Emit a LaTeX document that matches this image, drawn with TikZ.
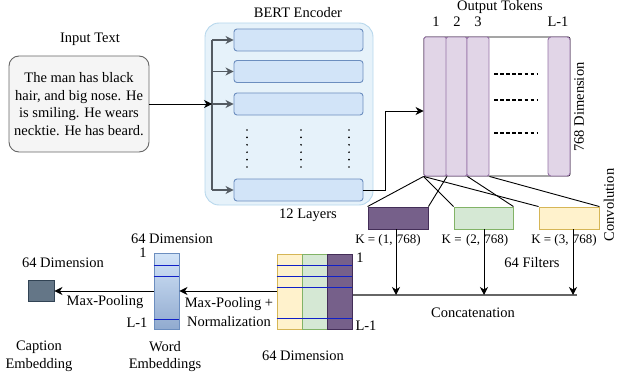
\documentclass[tikz,border=0pt]{standalone}
\usepackage{fontspec}
\setmainfont{Liberation Serif}
\usetikzlibrary{arrows.meta}
\definecolor{bertfill}{HTML}{E6F2FA}
\definecolor{bertdraw}{HTML}{B7D7EC}
\definecolor{layfill}{HTML}{D2E4F8}
\definecolor{laydraw}{HTML}{6C8EBF}
\definecolor{tokfill}{HTML}{E1D5E7}
\definecolor{tokdraw}{HTML}{9673A6}
\definecolor{purfill}{HTML}{76608A}
\definecolor{purdraw}{HTML}{432D57}
\definecolor{grnfill}{HTML}{D5E8D4}
\definecolor{grndraw}{HTML}{82B366}
\definecolor{yelfill}{HTML}{FFF2CC}
\definecolor{yeldraw}{HTML}{D6B656}
\definecolor{capfill}{HTML}{647687}
\definecolor{capdraw}{HTML}{314354}
\definecolor{arrgray}{HTML}{545B62}
\definecolor{rowblue}{HTML}{1020C8}
\tikzset{
  txt/.style={inner sep=0pt, font=\fontsize{14.5}{17.7}\selectfont, align=center},
  ktxt/.style={inner sep=0pt, font=\fontsize{13}{15}\selectfont},
  box/.style={draw, inner sep=0pt, line width=0.9pt},
  arr/.style={-{Stealth[length=8pt,width=8pt,inset=2.5pt]}, line width=0.9pt},
  garr/.style={-{Stealth[length=8pt,width=8pt,inset=2.5pt]}, line width=1.3pt, draw=arrgray, color=arrgray},
  rowline/.style={draw=rowblue, line width=0.9pt},
}
\begin{document}
\begin{tikzpicture}[x=1pt,y=-1pt]
\useasboundingbox (0,0) rectangle (620,377);

% Input
\node[box, rounded corners=10pt, fill=black!4, draw=black!60, minimum width=140pt, minimum height=96pt] (input) at (79,104) {};
\node[txt] (inputtxt) at (79,104) {The man has black\\hair, and big nose. He\\is smiling. He wears\\necktie. He has beard.};
\node[txt] (inputlbl) at (90,39) {Input Text};

% BERT
\node[box, rounded corners=14pt, fill=bertfill, draw=bertdraw, minimum width=168pt, minimum height=182pt] (bert) at (289,114) {};
\node[txt] (bertlbl) at (298,13) {BERT Encoder};
\node[txt] (layerslbl) at (308,215) {12 Layers};
\foreach \n/\y in {l1/40, l2/71.5, l3/104, l4/190}
  \node[box, rounded corners=3pt, fill=layfill, draw=laydraw, minimum width=129pt, minimum height=22pt] (\n) at (298.5,\y) {};
\foreach \x in {247,301,349}
  \foreach \k in {0,...,5}
    \fill (\x,130+\k*7.4) circle (0.95pt);
\coordinate (vt) at (212,40);
\coordinate (vb) at (212,190);
\coordinate (j) at (212,104);
\draw[line width=1.3pt, arrgray] (vt) -- (vb);
\foreach \n in {l1,l2,l3,l4}
  \draw[garr] (vt |- \n.west) -- (\n.west);
\draw[arr] (input.east) -- (j);

% Output tokens
\node[box, rounded corners=2pt, fill=white, draw=black, minimum width=146pt, minimum height=139pt] (tokens) at (497,106.5) {};
\node[box, rounded corners=2pt, fill=tokfill, draw=tokdraw, minimum width=22.5pt, minimum height=139pt] (c1) at (435.25,106.5) {};
\node[box, rounded corners=2pt, fill=tokfill, draw=tokdraw, minimum width=21pt, minimum height=139pt] (c2) at (456.5,106.5) {};
\node[box, rounded corners=2pt, fill=tokfill, draw=tokdraw, minimum width=22pt, minimum height=139pt] (c3) at (478,106.5) {};
\node[box, rounded corners=3pt, fill=tokfill, draw=tokdraw, minimum width=22pt, minimum height=139pt] (cL) at (559,106.5) {};
\foreach \y in {74,100,133}
  \draw[dash pattern=on 3.8pt off 2.3pt, line width=1.2pt] (494,\y) -- (537,\y);
\node[txt] (toklbl) at (500,7) {Output Tokens};
\node[txt] (t1) at (436,22) {1};
\node[txt] (t2) at (457,22) {2};
\node[txt] (t3) at (478,22) {3};
\node[txt] (tL) at (558,22) {L-1};
\node[txt, rotate=90] (dimlbl) at (579,107) {768 Dimension};
\node[txt, rotate=90] (convlbl) at (609,205) {Convolution};
\draw[arr] (l4.east) -- ++(22,0) |- ([yshift=-4.5pt]c1.west);

% Conv filters
\node[box, fill=purfill, draw=purdraw, minimum width=60pt, minimum height=22pt] (fp) at (398,218) {};
\node[box, fill=grnfill, draw=grndraw, minimum width=59pt, minimum height=22pt] (fg) at (483.5,218) {};
\node[box, fill=yelfill, draw=yeldraw, minimum width=60pt, minimum height=22pt] (fy) at (569,218) {};
\draw[line width=0.9pt] (c1.south west) -- (fp.north west);
\draw[line width=0.9pt] (c1.south east) -- (fp.north east);
\draw[line width=0.9pt] (c1.south west) -- (fg.north west);
\draw[line width=0.9pt] (c2.south east) -- (fg.north east);
\draw[line width=0.9pt] (c1.south west) -- (fy.north west);
\draw[line width=0.9pt] (c3.south east) -- (fy.north east);
\node[ktxt] (k1) at (388,240) {K = (1,\,\,768)};
\node[ktxt] (k2) at (475,240) {K =\,\,(2,\,\,768)};
\node[ktxt] (k3) at (564,240) {K = (3,\,\,768)};
\node[txt] (filtlbl) at (532,263) {64 Filters};

% Concatenation
\coordinate (cs) at (353,295);
\coordinate (ce) at (577,295);
\coordinate (a1) at (396,295);
\coordinate (a2) at (484,295);
\coordinate (a3) at (573,295);
\draw[line width=1.8pt, black!60] (cs) -- (ce);
\draw[arr] (fp.south -| a1) -- (a1);
\draw[arr] (fg.south -| a2) -- (a2);
\draw[arr] (fy.south -| a3) -- (a3);
\node[txt] (concatlbl) at (473,313) {Concatenation};

% Concatenated matrix
\node[box, fill=yelfill, draw=yeldraw, minimum width=25pt, minimum height=75pt] (my) at (289.5,291.5) {};
\node[box, fill=grnfill, draw=grndraw, minimum width=25pt, minimum height=75pt] (mg) at (314.5,291.5) {};
\node[box, fill=purfill, draw=purdraw, minimum width=25pt, minimum height=75pt] (mp) at (339.5,291.5) {};
\foreach \y in {265,276,287,318}
  \draw[rowline] (my.west |- 0,\y) -- (mp.east |- 0,\y);
\node[txt] (m1) at (360,258) {1};
\node[txt] (mL) at (366,326) {L-1};
\node[txt] (mdim) at (303,356) {64 Dimension};

% Word embeddings
\node[box, top color=layfill, bottom color=laydraw!75, draw=laydraw, minimum width=25pt, minimum height=76pt] (we) at (166.5,291) {};
\foreach \y in {265,276,319}
  \draw[rowline] (we.west |- 0,\y) -- (we.east |- 0,\y);
\node[txt] (wdim) at (172,239) {64 Dimension};
\node[txt] (w1) at (143,253) {1};
\node[txt] (wL) at (137,323) {L-1};
\node[txt] (welbl) at (165,356.5) {Word\\Embeddings};
\draw[arr] (my.west |- we.east) -- (we.east);
\node[txt, font=\fontsize{14.5}{19}\selectfont] (mpn) at (229,312.5) {Max-Pooling +\\Normalization};

% Caption embedding
\node[box, fill=capfill, draw=capdraw, minimum width=26pt, minimum height=21pt] (cap) at (41,291) {};
\node[txt] (cdim) at (63,263) {64 Dimension};
\node[txt] (caplbl) at (39,356.5) {Caption\\Embedding};
\draw[arr] (we.west) -- (cap.east);
\node[txt] (mplbl) at (105,302) {Max-Pooling};
\end{tikzpicture}
\end{document}
